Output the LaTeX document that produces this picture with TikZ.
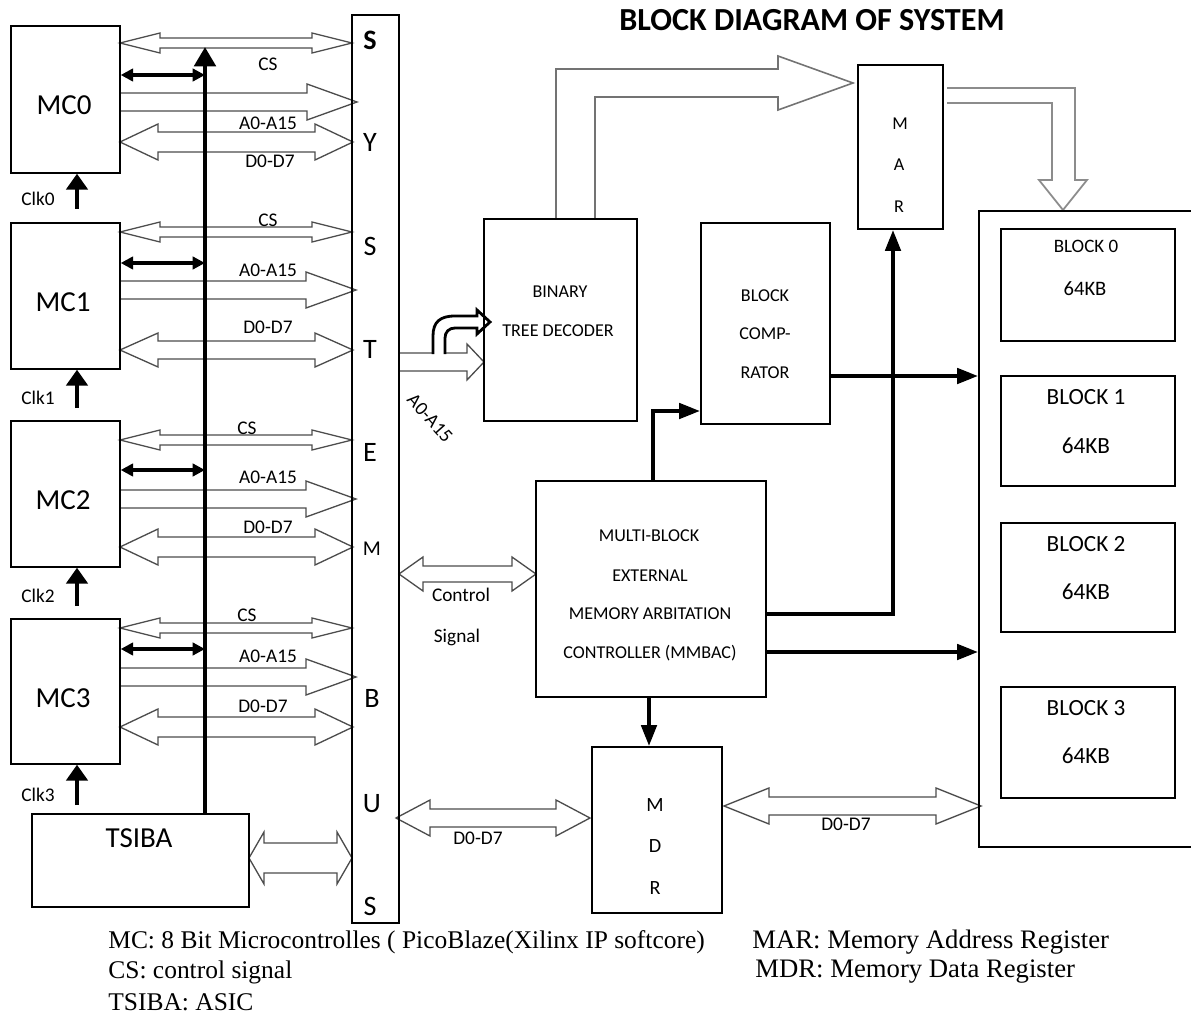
\documentclass[tikz,border=0pt]{standalone}
\usepackage{fontspec}
\setmainfont{Liberation Serif}
\newfontfamily\calib{Carlito}
\usetikzlibrary{arrows.meta}
\newcommand\boxat[5]{\node[box, minimum width={(#4-#2)*0.02cm}, minimum height={(#5-#3)*0.02cm}] (#1) at ({(#2+#4)/2},{(#3+#5)/2}) {};}
\newcommand\dblarr[6]{\draw[hollow] (#1,#3) -- ({#1+#6},{#3-#5}) -- ({#1+#6},{#3-#4}) -- ({#2-#6},{#3-#4}) -- ({#2-#6},{#3-#5}) -- (#2,#3) -- ({#2-#6},{#3+#5}) -- ({#2-#6},{#3+#4}) -- ({#1+#6},{#3+#4}) -- ({#1+#6},{#3+#5}) -- cycle;}
\newcommand\sglarr[6]{\draw[hollow] (#1,{#3-#4}) -- ({#2-#6},{#3-#4}) -- ({#2-#6},{#3-#5}) -- (#2,#3) -- ({#2-#6},{#3+#5}) -- ({#2-#6},{#3+#4}) -- (#1,{#3+#4}) -- cycle;}
\begin{document}
\begin{tikzpicture}[x=0.02cm,y=-0.02cm,
  box/.style={draw, line width=0.8pt, inner sep=0pt},
  hollow/.style={draw=black!70, line width=0.75pt, fill=white, line join=miter},
  mcf/.style={font=\calib\fontsize{16.5}{18}\selectfont},
  lab/.style={font=\calib\fontsize{11}{13}\selectfont},
  bxf/.style={font=\calib\fontsize{10.3}{12}\selectfont},
  blkf/.style={font=\calib\fontsize{13.2}{15}\selectfont},
  blkz/.style={font=\calib\fontsize{10.8}{12}\selectfont},
  busf/.style={font=\calib\fontsize{16}{18}\selectfont},
  foot/.style={font=\fontsize{14.5}{16}\selectfont, anchor=west, inner sep=0pt},
  mcarr/.style={line width=1.8pt, {Triangle[length=7pt,width=7pt]}-{Triangle[length=7pt,width=7pt]}},
  clkarr/.style={line width=2.4pt, -{Triangle[length=9pt,width=12pt]}},
  thk/.style={line width=2.6pt, -{Triangle[length=12pt,width=8.5pt]}}
]
\useasboundingbox (0,0) rectangle (1191,1017);
\clip (0,0) rectangle (1191,1017);

% ---------- hollow bus arrows (left side)
% MC0
\dblarr{120}{352}{43}{5}{10}{40}
\sglarr{120}{357}{102}{9}{18}{50}
\dblarr{120}{353}{142}{10}{18}{38}
% MC1
\dblarr{120}{352}{232}{5}{10}{40}
\sglarr{120}{356}{290}{9}{18}{50}
\dblarr{120}{353}{350}{9}{17}{38}
% MC2
\dblarr{120}{352}{440}{5}{10}{40}
\sglarr{120}{356}{499}{9}{18}{50}
\dblarr{120}{353}{547}{10}{18}{38}
% MC3
\dblarr{120}{352}{628}{5}{10}{40}
\sglarr{120}{356}{677}{9}{18}{50}
\dblarr{120}{353}{727}{10}{18}{38}
% TSIBA
\dblarr{249}{352}{858}{15}{26}{15}
% right side hollow arrows
\dblarr{399}{536}{574}{8}{17}{24}
\dblarr{396}{590}{818}{9}{18}{34}
\dblarr{724}{981}{806}{9}{18}{45}
\sglarr{399}{484}{362}{9}{18}{17}
% decoder -> MAR bent arrow
\draw[draw=black!55, line width=0.9pt, fill=white, line join=miter]
  (556,219) -- (556,69) -- (778,69) -- (778,56) -- (853,83) -- (778,110) -- (778,97) -- (595,97) -- (595,219);
% MAR -> memory bent arrow
\draw[draw=black!45, line width=1pt, fill=white, line join=miter]
  (947,88) -- (1075,88) -- (1075,180) -- (1087,180) -- (1063,210) -- (1039,180) -- (1052,180) -- (1052,103) -- (947,103);
% curved black arrow into decoder
\draw[line width=1.6pt, fill=white, line join=miter]
  (433,354) -- (433,336) .. controls (433,322) and (440,316) .. (455,316) -- (477,316) -- (477,310) -- (490,322) -- (477,334) -- (477,328) -- (455,328) .. controls (449,328) and (445,332) .. (445,338) -- (445,354);

% ---------- boxes
\boxat{mc0}{11}{26}{120}{173}
\boxat{mc1}{11}{223}{120}{369}
\boxat{mc2}{11}{421}{120}{567}
\boxat{mc3}{11}{619}{120}{764}
\boxat{tsiba}{32}{814}{249}{907}
\boxat{bus}{352}{15}{399}{923}
\boxat{btd}{484}{219}{637}{421}
\boxat{comp}{701}{223}{830}{424}
\boxat{mar}{858}{65}{943}{229}
\boxat{mmbac}{536}{481}{766}{697}
\boxat{mdr}{592}{747}{722}{913}
\boxat{mem}{979}{211}{1240}{847}
\boxat{blk0}{1001}{229}{1175}{341}
\boxat{blk1}{1001}{376}{1175}{486}
\boxat{blk2}{1001}{523}{1175}{632}
\boxat{blk3}{1001}{687}{1175}{798}

% ---------- texts in boxes
\node[mcf] at (64,105) {MC0};
\node[mcf] at (63,302) {MC1};
\node[mcf] at (63,500) {MC2};
\node[mcf] at (63,698) {MC3};
\node[mcf] at (139,838) {TSIBA};
\node[busf, font=\calib\bfseries\fontsize{16}{18}\selectfont] at (370,40) {S};
\node[busf] at (370,142) {Y};
\node[busf] at (370,246) {S};
\node[busf] at (370,349) {T};
\node[busf] at (370,452) {E};
\node[lab, font=\calib\fontsize{12}{14}\selectfont] at (372,549) {M};
\node[busf] at (372,698) {B};
\node[busf] at (372,804) {U};
\node[busf] at (370,906) {S};
\node[bxf] at (560,292) {BINARY};
\node[bxf] at (558,331) {TREE DECODER};
\node[bxf] at (765,296) {BLOCK};
\node[bxf] at (765,334) {COMP-};
\node[bxf] at (765,373) {RATOR};
\node[bxf] at (900,124) {M};
\node[bxf] at (899,165) {A};
\node[bxf] at (899,207) {R};
\node[bxf] at (649,536) {MULTI-BLOCK};
\node[bxf] at (650,576) {EXTERNAL};
\node[bxf] at (650,614) {MEMORY ARBITATION};
\node[bxf] at (650,653) {CONTROLLER (MMBAC)};
\node[bxf, font=\calib\fontsize{11.5}{13}\selectfont] at (655,805) {M};
\node[bxf, font=\calib\fontsize{11.5}{13}\selectfont] at (655,846) {D};
\node[bxf, font=\calib\fontsize{11.5}{13}\selectfont] at (655,888) {R};
\node[blkz] at (1086,246) {BLOCK 0};
\node[blkz, font=\calib\fontsize{11.7}{13}\selectfont] at (1085,289) {64KB};
\node[blkf] at (1086,397) {BLOCK 1};
\node[blkf] at (1086,446) {64KB};
\node[blkf] at (1086,544) {BLOCK 2};
\node[blkf] at (1086,592) {64KB};
\node[blkf] at (1086,708) {BLOCK 3};
\node[blkf] at (1086,756) {64KB};

% ---------- labels
\foreach \yy/\xx in {64/268,220/268,428/247,615/247} \node[lab] at (\xx,\yy) {CS};
\foreach \yy in {123,270,477,656} \node[lab] at (268,\yy) {A0-A15};
\foreach \yy/\xx in {161/270,327/268,527/268,706/263} \node[lab] at (\xx,\yy) {D0-D7};
\node[lab] at (38,199) {Clk0};
\node[lab] at (38,398) {Clk1};
\node[lab] at (38,596) {Clk2};
\node[lab] at (38,795) {Clk3};
\node[lab] at (461,595) {Control};
\node[lab] at (457,637) {Signal};
\node[lab] at (478,838) {D0-D7};
\node[lab] at (846,824) {D0-D7};
\node[lab, rotate=-48, inner sep=0pt] at (430,418) {A0-A15};
\node[font=\calib\bfseries\fontsize{18.3}{20}\selectfont] at (812,20) {BLOCK DIAGRAM OF SYSTEM};

% ---------- thick connectors
\coordinate (vx) at (205,0);
\coordinate (vtop) at (205,47);
\draw[line width=2.7pt, -{Triangle[length=11pt,width=12pt]}] (tsiba.north -| vx) -- (vtop);
\draw[mcarr] (mc0.east |- 0,75) -- (vx |- 0,75);
\draw[mcarr] (mc1.east |- 0,263) -- (vx |- 0,263);
\draw[mcarr] (mc2.east |- 0,470) -- (vx |- 0,470);
\draw[mcarr] (mc3.east |- 0,649) -- (vx |- 0,649);
\coordinate (clkx) at (77,0);
\draw[clkarr] (77,209) -- (mc0.south -| clkx);
\draw[clkarr] (77,408) -- (mc1.south -| clkx);
\draw[clkarr] (77,606) -- (mc2.south -| clkx);
\draw[clkarr] (77,805) -- (mc3.south -| clkx);

\draw[thk] (comp.east |- 0,376) -- (mem.west |- 0,376);
\draw[thk] (mmbac.east |- 0,614) -| (mar.south -| 893,0);
\draw[thk] (mmbac.east |- 0,652) -- (mem.west |- 0,652);
\draw[thk] (mmbac.north -| 653,0) |- (comp.west |- 0,411);
\draw[thk] (mmbac.south -| 649,0) -- (mdr.north -| 649,0);

% ---------- footer
\node[foot] at (108,942) {MC: 8 Bit Microcontrolles ( PicoBlaze(Xilinx IP softcore)};
\node[foot] at (108,972) {CS: control signal};
\node[foot] at (108,1002) {TSIBA: ASIC};
\node[foot, font=\fontsize{15.2}{17}\selectfont] at (752,942) {MAR: Memory Address Register};
\node[foot, font=\fontsize{15.2}{17}\selectfont] at (755,972) {MDR: Memory Data Register};
\end{tikzpicture}
\end{document}
